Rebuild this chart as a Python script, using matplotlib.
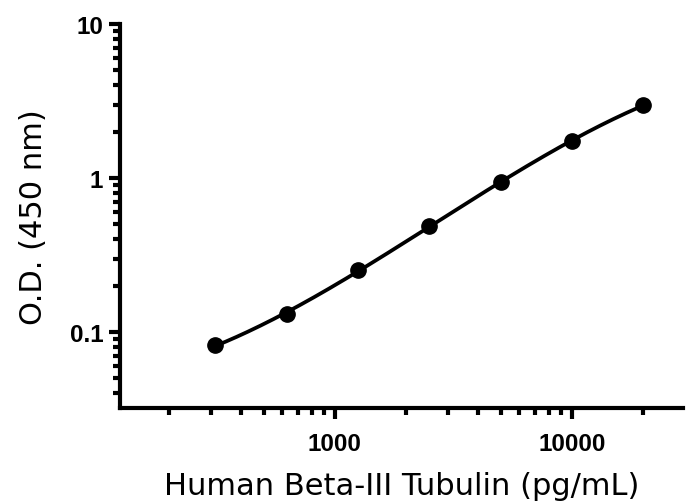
import numpy as np
import matplotlib
matplotlib.use("Agg")
import matplotlib.pyplot as plt
from matplotlib.ticker import LogLocator, NullFormatter, FixedLocator, FixedFormatter

conc = [312.5, 625, 1250, 2500, 5000, 10000, 20000]
od = [0.082, 0.131, 0.252, 0.487, 0.94, 1.74, 2.98]
xticks = [1000, 10000]
xticklabels = ["1000", "10000"]
yticks = [0.1, 1, 10]
yticklabels = ["0.1", "1", "10"]
xlabel = "Human Beta-III Tubulin (pg/mL)"
ylabel = "O.D. (450 nm)"

plt.rcParams["font.family"] = ["Liberation Sans", "DejaVu Sans"]
plt.rcParams["font.weight"] = "bold"

fig = plt.figure(figsize=(6.87, 5.02), dpi=100)
ax = fig.add_axes([0.1747, 0.185, 0.820, 0.765])

lx = np.log10(conc)
ly = np.log10(od)
coef = np.polyfit(lx, ly, 3)
xs = np.linspace(lx[0], lx[-1], 200)
ax.plot(10**xs, 10**np.polyval(coef, xs), color="black", lw=2.7, zorder=2)
ax.plot(conc, od, "o", color="black", ms=11, zorder=3)

ax.set_xscale("log")
ax.set_yscale("log")
ax.set_xlim(124, 29500)
ax.set_ylim(0.0321, 10)

for s in ["top", "right"]:
    ax.spines[s].set_visible(False)
for s in ["left", "bottom"]:
    ax.spines[s].set_linewidth(3)

ax.xaxis.set_major_locator(FixedLocator(xticks))
ax.xaxis.set_major_formatter(FixedFormatter(xticklabels))
ax.yaxis.set_major_locator(FixedLocator(yticks))
ax.yaxis.set_major_formatter(FixedFormatter(yticklabels))
ax.xaxis.set_minor_locator(LogLocator(base=10, subs=np.arange(2, 10)))
ax.yaxis.set_minor_locator(LogLocator(base=10, subs=np.arange(2, 10)))
ax.xaxis.set_minor_formatter(NullFormatter())
ax.yaxis.set_minor_formatter(NullFormatter())
ax.tick_params(which="major", length=8, width=3, direction="out", labelsize=17.5)
ax.tick_params(axis="x", which="major", pad=9)
ax.tick_params(axis="y", which="major", pad=4)
ax.tick_params(which="minor", length=5, width=3, direction="out")

ax.set_xlabel(xlabel, fontsize=22, fontfamily="DejaVu Sans", fontweight="normal", labelpad=12)
ax.set_ylabel(ylabel, fontsize=22, fontfamily="DejaVu Sans", fontweight="normal", labelpad=16)

fig.savefig("out.png", dpi=100)
